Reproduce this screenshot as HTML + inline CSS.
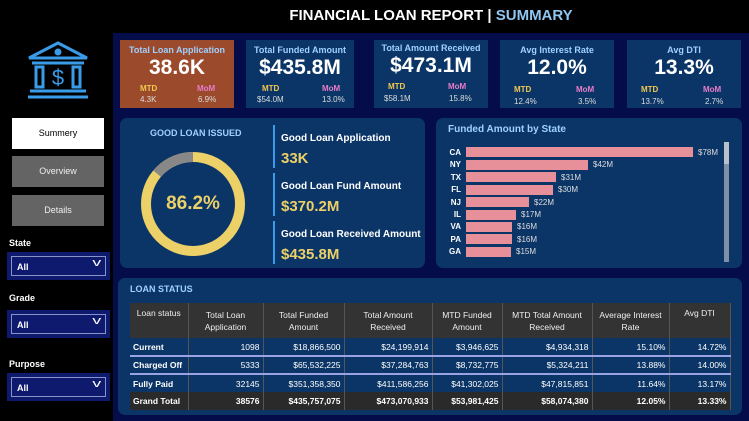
<!DOCTYPE html>
<html><head><meta charset="utf-8"><style>
*{margin:0;padding:0;box-sizing:border-box}
body{width:749px;height:421px;background:#000;font-family:"Liberation Sans",sans-serif;position:relative;overflow:hidden;color:#fff}
.a{position:absolute}
.main{left:113px;top:33px;width:636px;height:388px;background:#040c4a}
.title{left:113px;top:7px;width:636px;text-align:center;font-weight:bold;font-size:15px}
.card{background:#0b3566;text-align:center;height:68px;top:40px}
.card .t{font-size:9px;font-weight:bold;color:#9fd0ff;margin-top:5px}
.card .v{font-size:21px;font-weight:bold;margin-top:1px}
.card .l{position:absolute;font-size:8px;font-weight:bold}
.card .n{position:absolute;font-size:8px;color:#ddd}
.btn{left:12px;width:92px;height:31px;background:#646464;color:#eee;font-size:9px;text-align:center;line-height:31px}
.lab{left:9px;font-size:9px;font-weight:bold}
.dd{left:7px;width:103px;height:28px;background:#0e1a6e}
.dd div{position:absolute;left:4px;top:4px;right:4px;bottom:4px;border:1px solid #8a93c8;font-size:9px;font-weight:bold;padding:5px 0 0 5px}
.dd span{position:absolute;right:6px;top:0;font-weight:normal;font-size:11px;transform:scaleX(1.6)}
.panel{background:#0b3566;border-radius:7px}
table{border-collapse:collapse;font-size:8.5px;position:absolute;left:130px;top:303px;width:600px;table-layout:fixed}
td,th{padding:0 3px;border-right:1px solid #555;white-space:nowrap;overflow:hidden}
th{background:#333;font-weight:normal;height:35px;color:#eee;line-height:12px}
td{text-align:right;height:18px;background:#0b3566}
td:first-child{text-align:left;font-weight:bold}
tr.g td{background:#2a2a2a;font-weight:bold}
tr.s td{border-bottom:2px solid #9aa3e6}
.st{font-size:8px;font-weight:bold;text-align:right;width:30px}
.bar{background:#e8909a;height:10px}
.bv{font-size:8px;color:#ddd}
</style></head><body>
<div class="a main"></div>
<div class="a title">FINANCIAL LOAN REPORT | <span style="color:#8fc6f0">SUMMARY</span></div>
<svg class="a" style="left:26px;top:40px" width="65" height="60" viewBox="0 0 65 60" fill="none" stroke="#3a9be8" stroke-width="3">
<path d="M3 18 L32 3 L61 18 Z"/><circle cx="32" cy="12" r="2" fill="#3a9be8"/><line x1="6" y1="23" x2="58" y2="23"/>
<rect x="10" y="27" width="7" height="20"/><rect x="47" y="27" width="7" height="20"/>
<line x1="4" y1="51" x2="60" y2="51"/><line x1="2" y1="57" x2="62" y2="57"/>
<text x="32" y="45" font-size="22" fill="#3a9be8" stroke="none" text-anchor="middle" font-family="Liberation Sans">$</text></svg>
<div class="a btn" style="top:118px;background:#fff;color:#000">Summery</div>
<div class="a btn" style="top:156px">Overview</div>
<div class="a btn" style="top:195px">Details</div>
<div class="a lab" style="top:238px">State</div>
<div class="a dd" style="top:252px"><div>All<span>v</span></div></div>
<div class="a lab" style="top:293px">Grade</div>
<div class="a dd" style="top:310px"><div>All<span>v</span></div></div>
<div class="a lab" style="top:359px">Purpose</div>
<div class="a dd" style="top:373px"><div>All<span>v</span></div></div>

<div class="a card" style="left:120px;width:114px;background:#9b4a2c"><div class="t">Total Loan Application</div><div class="v">38.6K</div>
<span class="l" style="left:20px;top:44px;color:#f0c850">MTD</span><span class="l" style="left:77px;top:44px;color:#e87cc8">MoM</span>
<span class="n" style="left:20px;top:55px">4.3K</span><span class="n" style="left:78px;top:55px">6.9%</span></div>
<div class="a card" style="left:246px;width:108px"><div class="t">Total Funded Amount</div><div class="v">$435.8M</div>
<span class="l" style="left:16px;top:44px;color:#f0c850">MTD</span><span class="l" style="left:76px;top:44px;color:#e87cc8">MoM</span>
<span class="n" style="left:11px;top:55px">$54.0M</span><span class="n" style="left:76px;top:55px">13.0%</span></div>
<div class="a card" style="left:374px;width:114px"><div class="t" style="margin-top:3px">Total Amount Received</div><div class="v">$473.1M</div>
<span class="l" style="left:14px;top:42px;color:#f0c850">MTD</span><span class="l" style="left:74px;top:42px;color:#e87cc8">MoM</span>
<span class="n" style="left:10px;top:54px">$58.1M</span><span class="n" style="left:75px;top:54px">15.8%</span></div>
<div class="a card" style="left:500px;width:114px"><div class="t">Avg Interest Rate</div><div class="v">12.0%</div>
<span class="l" style="left:14px;top:45px;color:#f0c850">MTD</span><span class="l" style="left:76px;top:45px;color:#e87cc8">MoM</span>
<span class="n" style="left:14px;top:57px">12.4%</span><span class="n" style="left:78px;top:57px">3.5%</span></div>
<div class="a card" style="left:627px;width:114px"><div class="t">Avg DTI</div><div class="v">13.3%</div>
<span class="l" style="left:14px;top:45px;color:#f0c850">MTD</span><span class="l" style="left:76px;top:45px;color:#e87cc8">MoM</span>
<span class="n" style="left:14px;top:57px">13.7%</span><span class="n" style="left:78px;top:57px">2.7%</span></div>

<div class="a panel" style="left:120px;top:118px;width:305px;height:150px"></div>
<div class="a" style="left:150px;top:128px;font-size:9px;font-weight:bold;color:#9fd0ff">GOOD LOAN ISSUED</div>
<svg class="a" style="left:138px;top:149px" width="110" height="110"><circle cx="55" cy="55" r="47" fill="none" stroke="#ecd068" stroke-width="10"/>
<circle cx="55" cy="55" r="47" fill="none" stroke="#888" stroke-width="10" stroke-dasharray="40.8 300" transform="rotate(-90 55 55) scale(1 -1) translate(0 -110)"/></svg>
<div class="a" style="left:138px;top:193px;width:110px;text-align:center;font-size:19px;font-weight:bold;color:#ecd068">86.2%</div>
<div class="a" style="left:273px;top:125px;width:2px;height:43px;background:#3a9be8"></div>
<div class="a" style="left:273px;top:173px;width:2px;height:43px;background:#3a9be8"></div>
<div class="a" style="left:273px;top:221px;width:2px;height:43px;background:#3a9be8"></div>
<div class="a" style="left:281px;top:133px;font-size:10px;font-weight:bold">Good Loan Application</div>
<div class="a" style="left:281px;top:150px;font-size:15px;font-weight:bold;color:#ecd068">33K</div>
<div class="a" style="left:281px;top:181px;font-size:10px;font-weight:bold">Good Loan Fund Amount</div>
<div class="a" style="left:281px;top:198px;font-size:15px;font-weight:bold;color:#ecd068">$370.2M</div>
<div class="a" style="left:281px;top:229px;font-size:10px;font-weight:bold">Good Loan Received Amount</div>
<div class="a" style="left:281px;top:246px;font-size:15px;font-weight:bold;color:#ecd068">$435.8M</div>

<div class="a panel" style="left:436px;top:118px;width:306px;height:150px"></div>
<div class="a" style="left:448px;top:124px;font-size:10px;font-weight:bold;color:#9fd0ff">Funded Amount by State</div>
<div class="a" style="left:724px;top:142px;width:5px;height:120px;background:#7f8fa8"></div>
<div class="a" style="left:724px;top:142px;width:5px;height:22px;background:#b8c0cc"></div>
<div class="a st" style="left:431px;top:148px">CA</div><div class="a bar" style="left:466px;top:147px;width:227px"></div><div class="a bv" style="left:698px;top:148px">$78M</div>
<div class="a st" style="left:431px;top:160px">NY</div><div class="a bar" style="left:466px;top:160px;width:122px"></div><div class="a bv" style="left:593px;top:160px">$42M</div>
<div class="a st" style="left:431px;top:173px">TX</div><div class="a bar" style="left:466px;top:172px;width:90px"></div><div class="a bv" style="left:561px;top:173px">$31M</div>
<div class="a st" style="left:431px;top:185px">FL</div><div class="a bar" style="left:466px;top:185px;width:87px"></div><div class="a bv" style="left:558px;top:185px">$30M</div>
<div class="a st" style="left:431px;top:198px">NJ</div><div class="a bar" style="left:466px;top:197px;width:63px"></div><div class="a bv" style="left:534px;top:198px">$22M</div>
<div class="a st" style="left:431px;top:210px">IL</div><div class="a bar" style="left:466px;top:210px;width:50px"></div><div class="a bv" style="left:521px;top:210px">$17M</div>
<div class="a st" style="left:431px;top:222px">VA</div><div class="a bar" style="left:466px;top:222px;width:46px"></div><div class="a bv" style="left:517px;top:222px">$16M</div>
<div class="a st" style="left:431px;top:235px">PA</div><div class="a bar" style="left:466px;top:234px;width:46px"></div><div class="a bv" style="left:517px;top:235px">$16M</div>
<div class="a st" style="left:431px;top:247px">GA</div><div class="a bar" style="left:466px;top:247px;width:45px"></div><div class="a bv" style="left:516px;top:247px">$15M</div>

<div class="a panel" style="left:118px;top:278px;width:624px;height:137px"></div>
<div class="a" style="left:130px;top:284px;font-size:9px;font-weight:bold;color:#9fd0ff">LOAN STATUS</div>
<table>
<colgroup><col style="width:58px"><col style="width:75px"><col style="width:81px"><col style="width:88px"><col style="width:70px"><col style="width:90px"><col style="width:77px"><col style="width:61px"></colgroup>
<tr><th style="vertical-align:top;padding-top:4px">Loan status</th><th>Total Loan<br>Application</th><th>Total Funded<br>Amount</th><th>Total Amount<br>Received</th><th>MTD Funded<br>Amount</th><th>MTD Total Amount<br>Received</th><th>Average Interest<br>Rate</th><th style="vertical-align:top;padding-top:4px">Avg DTI</th></tr>
<tr class="s"><td>Current</td><td>1098</td><td>$18,866,500</td><td>$24,199,914</td><td>$3,946,625</td><td>$4,934,318</td><td>15.10%</td><td>14.72%</td></tr>
<tr class="s"><td>Charged Off</td><td>5333</td><td>$65,532,225</td><td>$37,284,763</td><td>$8,732,775</td><td>$5,324,211</td><td>13.88%</td><td>14.00%</td></tr>
<tr><td>Fully Paid</td><td>32145</td><td>$351,358,350</td><td>$411,586,256</td><td>$41,302,025</td><td>$47,815,851</td><td>11.64%</td><td>13.17%</td></tr>
<tr class="g"><td>Grand Total</td><td>38576</td><td>$435,757,075</td><td>$473,070,933</td><td>$53,981,425</td><td>$58,074,380</td><td>12.05%</td><td>13.33%</td></tr>
</table>
</body></html>
